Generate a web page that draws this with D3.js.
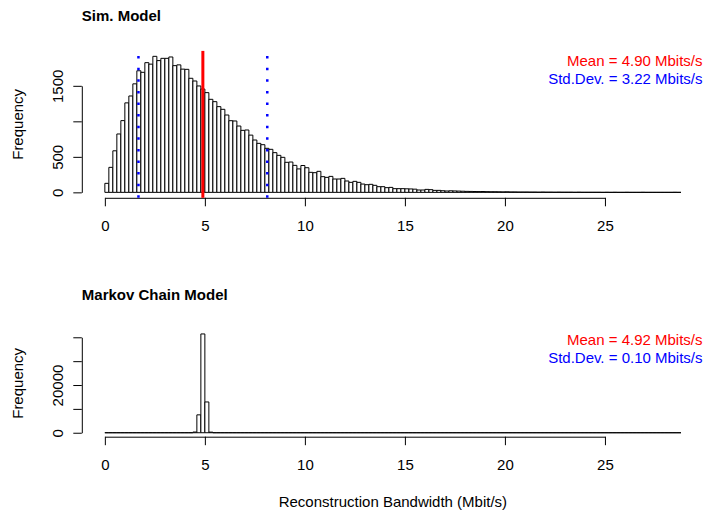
<!DOCTYPE html>
<html>
<head>
<meta charset="utf-8">
<script src="https://cdn.jsdelivr.net/npm/d3@7"></script>
<style>
  body { margin: 0; background: #fff; }
  svg { display: block; font-family: "Liberation Sans", Arial, Helvetica, sans-serif; }
</style>
</head>
<body>
<script>
// Histogram bins are 0.2 Mbit/s wide, starting at 0
const binWidth = 0.2;
const xTicks = [0, 5, 10, 15, 20, 25];

// Sim. Model bin counts
const simCounts = [
  127, 352, 585, 822, 1010, 1260, 1357, 1528, 1712, 1690,
  1826, 1805, 1915, 1855, 1887, 1887, 1906, 1784, 1795, 1735,
  1732, 1606, 1568, 1498, 1455, 1404, 1310, 1277, 1207, 1169,
  1089, 1009, 1005, 934, 873, 878, 806, 737, 690, 671,
  620, 606, 559, 521, 493, 423, 427, 380, 330, 378,
  347, 282, 277, 296, 221, 211, 225, 188, 188, 197,
  160, 141, 155, 141, 117, 108, 113, 99, 80, 80,
  66, 70, 52, 52, 52, 50, 48, 45, 33, 33,
  42, 38, 28, 28, 23, 19, 22, 20, 18, 16,
  14, 13, 12, 11, 12, 10, 9, 9, 8, 7,
  8, 6, 6, 5, 5, 5, 4, 4, 3, 4,
  3, 3, 2, 3, 2, 2, 2, 1, 2, 1,
  1, 1, 1, 1, 0, 1, 0, 1, 0, 0,
  1, 0, 0, 0, 1, 0, 0, 0, 0, 0,
  0, 0, 1, 0
];

// Markov Chain Model bin counts
const markovCounts = [
  0, 0, 0, 0, 0, 0, 0, 0, 0, 0,
  0, 0, 0, 0, 0, 0, 0, 0, 0, 0,
  0, 0, 300, 7500, 41400, 12900, 250, 0, 0, 0,
  0, 0, 0, 0, 0, 0, 0, 0, 0, 0,
  0, 0, 0, 0, 0, 0, 0, 0, 0, 0,
  0, 0, 0, 0, 0, 0, 0, 0, 0, 0,
  0, 0, 0, 0, 0, 0, 0, 0, 0, 0,
  0, 0, 0, 0, 0, 0, 0, 0, 0, 0,
  0, 0, 0, 0, 0, 0, 0, 0, 0, 0,
  0, 0, 0, 0, 0, 0, 0, 0, 0, 0,
  0, 0, 0, 0, 0, 0, 0, 0, 0, 0,
  0, 0, 0, 0, 0, 0, 0, 0, 0, 0,
  0, 0, 0, 0, 0, 0, 0, 0, 0, 0,
  0, 0, 0, 0, 0, 0, 0, 0, 0, 0,
  0, 0, 0, 0
];

const simYTicks = [0, 500, 1000, 1500];
const simYLabels = ["0", "500", "", "1500"];
const markovYTicks = [0, 10000, 20000, 30000, 40000];
const markovYLabels = ["0", "", "20000", "", ""];

const simMean = 4.90, simSd = 3.22;
const markovMean = 4.92, markovSd = 0.10;

const W = 704, H = 514;
const plotLeft = 81.8, plotRight = 704;
const fontSize = 15;

const svg = d3.select('body').append('svg')
    .attr('width', W)
    .attr('height', H);

function drawPanel(p) {
    const xMax = p.counts.length * binWidth;
    const yMax = d3.max(p.counts);

    // R style 4% padding around the data range
    const x = d3.scaleLinear()
        .domain([-0.04 * xMax, 1.04 * xMax])
        .range([plotLeft, plotRight]);
    const y = d3.scaleLinear()
        .domain([-0.04 * yMax, 1.04 * yMax])
        .range([p.bottom, p.top]);

    const g = svg.append('g');

    // bars (paths so that empty bins still show as a line)
    g.selectAll('.bar')
        .data(p.counts)
        .enter().append('path')
        .attr('class', 'bar')
        .attr('d', (d, i) => {
            const x0 = x(i * binWidth), x1 = x((i + 1) * binWidth);
            return `M${x0},${y(0)}V${y(d)}H${x1}V${y(0)}Z`;
        })
        .attr('fill', '#fff')
        .attr('stroke', '#000')
        .attr('stroke-width', 1);

    // x axis, line spans first to last tick only
    const xAxisScale = x.copy()
        .domain([xTicks[0], xTicks[xTicks.length - 1]])
        .range([x(xTicks[0]), x(xTicks[xTicks.length - 1])]);
    const xa = g.append('g')
        .attr('transform', `translate(0,${p.bottom})`)
        .call(d3.axisBottom(xAxisScale).tickValues(xTicks).tickSizeInner(8.5).tickSizeOuter(0));
    xa.selectAll('text')
        .attr('y', 33.7)
        .attr('dy', null)
        .attr('fill', '#000')
        .style('font-size', fontSize + 'px')
        .style('font-family', '"Liberation Sans", Arial, sans-serif');

    // y axis
    const yt = p.yTicks;
    const yAxisScale = y.copy()
        .domain([yt[0], yt[yt.length - 1]])
        .range([y(yt[0]), y(yt[yt.length - 1])]);
    const ya = g.append('g')
        .attr('transform', `translate(${plotLeft},0)`)
        .call(d3.axisLeft(yAxisScale).tickValues(yt).tickSizeInner(8.5).tickSizeOuter(0)
            .tickFormat((d, i) => p.yLabels[i]));
    ya.selectAll('text')
        .attr('x', 0)
        .attr('y', 0)
        .attr('dy', null)
        .attr('text-anchor', 'middle')
        .attr('transform', 'translate(-18.8,0) rotate(-90)')
        .attr('fill', '#000')
        .style('font-size', fontSize + 'px')
        .style('font-family', '"Liberation Sans", Arial, sans-serif');

    // y label
    g.append('text')
        .attr('transform', `translate(23,${(p.top + p.bottom) / 2}) rotate(-90)`)
        .attr('text-anchor', 'middle')
        .style('font-size', fontSize + 'px')
        .text('Frequency');

    // title, left aligned on the plot region
    g.append('text')
        .attr('x', plotLeft)
        .attr('y', p.titleY)
        .style('font-size', fontSize + 'px')
        .style('font-weight', 'bold')
        .text(p.title);

    // mean and +/- sd lines
    if (p.lines) {
        [p.mean - p.sd, p.mean + p.sd].forEach(v => {
            g.append('line')
                .attr('x1', x(v)).attr('x2', x(v))
                .attr('y1', p.bottom).attr('y2', p.top)
                .attr('stroke', '#0000ff')
                .attr('stroke-width', 2.5)
                .attr('stroke-dasharray', '2.5,9.1');
        });
        g.append('line')
            .attr('x1', x(p.mean)).attr('x2', x(p.mean))
            .attr('y1', p.bottom).attr('y2', p.top)
            .attr('stroke', '#ff0000')
            .attr('stroke-width', 3);
    }

    // legend
    g.append('text')
        .attr('x', plotRight - 1.5)
        .attr('y', p.top + 15.2)
        .attr('text-anchor', 'end')
        .attr('fill', '#ff0000')
        .style('font-size', fontSize + 'px')
        .text(`Mean = ${p.mean.toFixed(2)} Mbits/s`);
    g.append('text')
        .attr('x', plotRight - 1.5)
        .attr('y', p.top + 33)
        .attr('text-anchor', 'end')
        .attr('fill', '#0000ff')
        .style('font-size', fontSize + 'px')
        .text(`Std.Dev. = ${p.sd.toFixed(2)} Mbits/s`);
}

drawPanel({
    counts: simCounts, top: 50.9, bottom: 197.8, titleY: 20.7, title: 'Sim. Model',
    yTicks: simYTicks, yLabels: simYLabels, mean: simMean, sd: simSd, lines: true
});

drawPanel({
    counts: markovCounts, top: 330, bottom: 436.7, titleY: 299.5, title: 'Markov Chain Model',
    yTicks: markovYTicks, yLabels: markovYLabels, mean: markovMean, sd: markovSd, lines: false
});

// shared x axis title
svg.append('text')
    .attr('x', (plotLeft + plotRight) / 2)
    .attr('y', 507)
    .attr('text-anchor', 'middle')
    .style('font-size', fontSize + 'px')
    .text('Reconstruction Bandwidth (Mbit/s)');
</script>
</body>
</html>
